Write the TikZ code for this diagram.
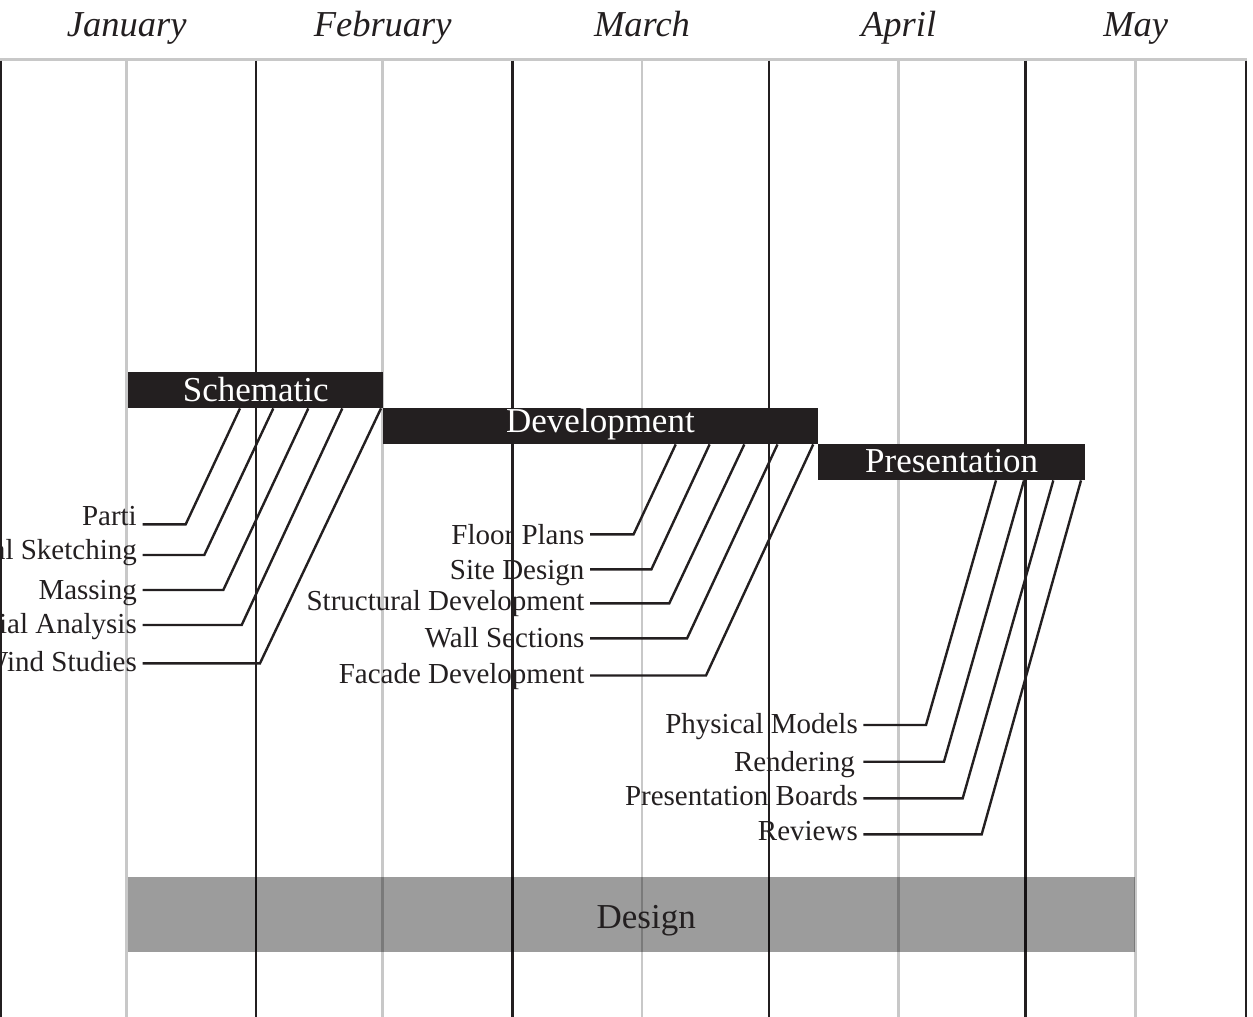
\documentclass[tikz,border=0pt]{standalone}
\usepackage{fontspec}
\setmainfont{Liberation Serif}
\definecolor{ink}{HTML}{231F20}
\definecolor{gridgray}{HTML}{C8C8C8}
\newcommand\lblfont{\fontsize{29}{33}\selectfont}
\newcommand\phasefont{\fontsize{35}{40}\selectfont}
\newcommand\monthfont{\fontsize{36.5}{41}\selectfont\itshape}
\begin{document}
\begin{tikzpicture}[x=1pt,y=-1pt,
  gridline/.style={draw=gridgray,line width=2.6pt},
  monthline/.style={draw=ink,line width=2.6pt},
  month/.style={anchor=base,inner sep=0,text=ink,font=\monthfont},
  phasebox/.style={anchor=north west,fill=ink,text=white,inner sep=0,minimum height=36pt,font=\phasefont},
  designbox/.style={anchor=north west,fill=black,fill opacity=0.39,text opacity=1,text=ink,inner sep=0,
     minimum width=1007pt,text height=51.3pt,text depth=23.7pt,font=\phasefont},
  tasklabel/.style={anchor=base east,inner xsep=5.5pt,inner ysep=0,text=ink,font=\lblfont},
  conn/.style={draw=ink,line width=2.4pt}]
\useasboundingbox (0,0) rectangle (1253,1017);
% grid
\draw[gridline] (0,59.5) -- (1247,59.5);
\foreach \x in {126.7,382.7,642,898.7,1135.7} \draw[gridline] (\x,60.5) -- (\x,1017);
\foreach \x in {1,256,512.5,769,1025.3,1246} \draw[monthline] (\x,60.5) -- (\x,1017);
% months
\node[month] (jan) at (126.7,36) {January};
\node[month] (feb) at (382.7,36) {February};
\node[month] (mar) at (642,36) {March};
\node[month] (apr) at (898.7,36) {April};
\node[month] (may) at (1135.7,36) {May};
% design band
\node[designbox] (design) at (128,877) {\hspace*{29pt}Design};
% phase boxes
\node[phasebox,minimum width=255pt,text height=29.7pt,text depth=6.3pt] (schem) at (128,372) {Schematic};
\node[phasebox,minimum width=434.5pt,text height=24.7pt,text depth=11.3pt] (dev) at (383,408) {Development};
\node[phasebox,minimum width=267pt,text height=28.7pt,text depth=7.3pt] (pres) at (818,444) {Presentation};
% schematic tasks
\node[tasklabel,inner xsep=5.7pt] (parti) at (142.7,525.5) {Parti};
\node[tasklabel,inner xsep=5.7pt] (sketch) at (142.7,559) {Conceptual Sketching};
\node[tasklabel,inner xsep=5.7pt] (massing) at (142.7,599) {Massing};
\node[tasklabel,inner xsep=5.7pt] (spatial) at (142.7,633) {Spatial Analysis};
\node[tasklabel,inner xsep=5.7pt] (wind) at (142.7,671.5) {Wind Studies};
\coordinate (s1) at (185.7,524.3);
\coordinate (s2) at (204.3,555);
\coordinate (s3) at (223.3,590);
\coordinate (s4) at (241.7,625);
\coordinate (s5) at (260,663.3);
\draw[conn] ([xshift=112pt]schem.south west) -- (s1) -- (s1 -| parti.east);
\draw[conn] ([xshift=145.3pt]schem.south west) -- (s2) -- (s2 -| sketch.east);
\draw[conn] ([xshift=180.3pt]schem.south west) -- (s3) -- (s3 -| massing.east);
\draw[conn] ([xshift=214.3pt]schem.south west) -- (s4) -- (s4 -| spatial.east);
\draw[conn] ([xshift=253pt]schem.south west) -- (s5) -- (s5 -| wind.east);
% development tasks
\node[tasklabel,inner xsep=5.4pt] (floor) at (590,544) {Floor Plans};
\node[tasklabel,inner xsep=5.4pt] (site) at (590,579) {Site Design};
\node[tasklabel,inner xsep=5.4pt] (struct) at (590,610) {Structural Development};
\node[tasklabel,inner xsep=5.4pt] (wall) at (590,647) {Wall Sections};
\node[tasklabel,inner xsep=5.4pt] (facade) at (590,683) {Facade Development};
\coordinate (d1) at (633.6,534.3);
\coordinate (d2) at (651.4,569.3);
\coordinate (d3) at (669.3,603.3);
\coordinate (d4) at (687.1,638.3);
\coordinate (d5) at (706,675.5);
\draw[conn] ([xshift=292.7pt]dev.south west) -- (d1) -- (d1 -| floor.east);
\draw[conn] ([xshift=326.6pt]dev.south west) -- (d2) -- (d2 -| site.east);
\draw[conn] ([xshift=361.3pt]dev.south west) -- (d3) -- (d3 -| struct.east);
\draw[conn] ([xshift=394.5pt]dev.south west) -- (d4) -- (d4 -| wall.east);
\draw[conn] ([xshift=430.2pt]dev.south west) -- (d5) -- (d5 -| facade.east);
% presentation tasks
\node[tasklabel,inner xsep=5.3pt] (models) at (863.3,733.3) {Physical Models};
\node[tasklabel,inner xsep=8.3pt] (render) at (863.3,771.7) {Rendering};
\node[tasklabel,inner xsep=5.3pt] (boards) at (863.3,805) {Presentation Boards};
\node[tasklabel,inner xsep=5.3pt] (reviews) at (863.3,840.7) {Reviews};
\coordinate (p1) at (926,725);
\coordinate (p2) at (944,761.7);
\coordinate (p3) at (962.7,798.3);
\coordinate (p4) at (981.7,834.3);
\draw[conn] ([xshift=178pt]pres.south west) -- (p1) -- (p1 -| models.east);
\draw[conn] ([xshift=206pt]pres.south west) -- (p2) -- (p2 -| render.east);
\draw[conn] ([xshift=235.3pt]pres.south west) -- (p3) -- (p3 -| boards.east);
\draw[conn] ([xshift=263pt]pres.south west) -- (p4) -- (p4 -| reviews.east);
\end{tikzpicture}
\end{document}
